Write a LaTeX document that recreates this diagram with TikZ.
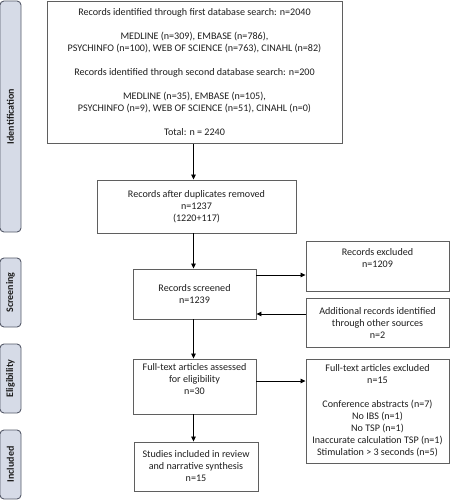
\documentclass[tikz,border=0pt]{standalone}
\usepackage{fontspec}
\setmainfont{Carlito}
\usetikzlibrary{arrows.meta}
\definecolor{sidefill}{RGB}{214,219,231}
\definecolor{sideline}{RGB}{85,90,105}
\definecolor{boxline}{RGB}{95,95,95}
\definecolor{txt}{RGB}{30,30,30}
\tikzset{
  flowbox/.style={draw=boxline, line width=0.9pt, align=center, inner sep=0pt,
    font=\fontsize{10.1}{12}\selectfont, text=txt},
  sidebox/.style={draw=sideline, fill=sidefill, line width=0.9pt, rounded corners=4pt,
    minimum width=21pt, inner sep=0pt},
  sidetext/.style={rotate=90, font=\bfseries\fontsize{10}{12}\selectfont, text=txt},
  arr/.style={draw=black, line width=0.8pt, -{Triangle[length=5pt,width=4.5pt]}}
}
\begin{document}
\begin{tikzpicture}[x=1pt,y=-1pt]
\useasboundingbox (0,0) rectangle (450,500);
% side labels
\node[sidebox, minimum height=231pt] (sid) at (10.5,116.5) {};
\node[sidetext] (tid) at (sid.center) {Identification};
\node[sidebox, minimum height=69pt] (ssc) at (10.5,292.5) {};
\node[sidetext] (tsc) at (ssc.center) {Screening};
\node[sidebox, minimum height=69pt] (sel) at (10.5,378.5) {};
\node[sidetext] (tel) at (sel.center) {Eligibility};
\node[sidebox, minimum height=69pt] (sin) at (10.5,464.5) {};
\node[sidetext] (tin) at (sin.center) {Included};
% boxes
\node[flowbox, minimum width=295pt, minimum height=142pt] (b1) at (194.5,72.5) {%
Records identified through first database search: n=2040\\[12pt]
MEDLINE (n=309), EMBASE (n=786),\\
PSYCHINFO (n=100), WEB OF SCIENCE (n=763), CINAHL (n=82)\\[12pt]
Records identified through second database search: n=200\\[12pt]
MEDLINE (n=35), EMBASE (n=105),\\
PSYCHINFO (n=9), WEB OF SCIENCE (n=51), CINAHL (n=0)\\[12pt]
Total: n = 2240};
\node[flowbox, minimum width=199pt, minimum height=53pt] (b2) at (196.5,206.5) {%
Records after duplicates removed\\ n=1237\\ (1220+117)};
\node[flowbox, minimum width=123pt, minimum height=50pt] (b3) at (194.5,294) {%
Records screened\\ n=1239};
\node[flowbox, minimum width=143pt, minimum height=50pt] (ex) at (377.5,266) {%
Records excluded\\ n=1209\\ \strut};
\node[flowbox, minimum width=143pt, minimum height=49pt] (ad) at (377.5,322.5) {%
Additional records identified\\ through other sources\\ n=2};
\node[flowbox, minimum width=123pt, minimum height=55pt] (b4) at (194.5,386.5) {%
Full-text articles assessed\\ for eligibility\\ n=30\\ \strut};
\node[flowbox, minimum width=143pt, minimum height=104pt] (fx) at (377.5,411) {%
Full-text articles excluded\\ n=15\\[12pt]
Conference abstracts (n=7)\\ No IBS (n=1)\\ No TSP (n=1)\\
Inaccurate calculation TSP (n=1)\\ Stimulation > 3 seconds (n=5)};
\node[flowbox, minimum width=124pt, minimum height=49pt] (b5) at (196,466.5) {%
Studies included in review\\ and narrative synthesis\\ n=15};
% connectors
\draw[arr] (b1.south -| 193.5,0) -- (b2.north -| 193.5,0);
\draw[arr] (b2.south -| 193.5,0) -- (b3.north -| 193.5,0);
\draw[arr] (b3.south -| 193.5,0) -- (b4.north -| 193.5,0);
\draw[arr] (b4.south -| 193.5,0) -- (b5.north -| 193.5,0);
\draw[arr] (b3.east |- 0,275) -- (ex.west |- 0,275);
\draw[arr] (ad.west |- 0,314) -- (b3.east |- 0,314);
\draw[arr] (b4.east |- 0,381) -- (fx.west |- 0,381);
\end{tikzpicture}
\end{document}
